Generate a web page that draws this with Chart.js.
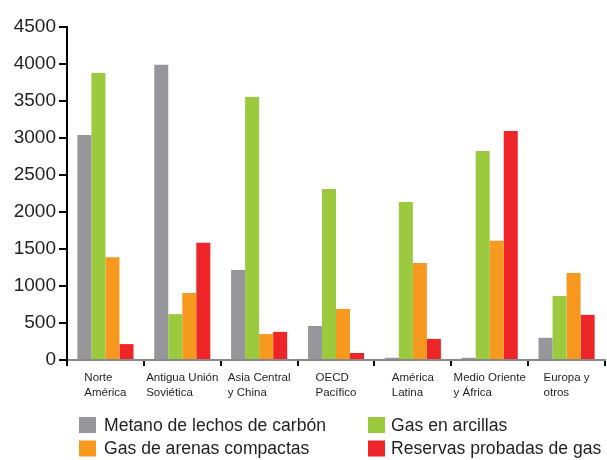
<!DOCTYPE html>
<html>
<head>
<meta charset="utf-8">
<script src="https://cdn.jsdelivr.net/npm/chart.js@4/dist/chart.umd.min.js"></script>
<style>
html,body{margin:0;padding:0;background:#fff;}
#wrap{width:607px;height:460px;}
</style>
</head>
<body>
<div id="wrap"><canvas id="c" width="607" height="460"></canvas></div>
<script>
const categories = [
  ["Norte", "América"],
  ["Antigua Unión", "Soviética"],
  ["Asia Central", "y China"],
  ["OECD", "Pacífico"],
  ["América", "Latina"],
  ["Medio Oriente", "y África"],
  ["Europa y", "otros"]
];
const seriesNames = [
  "Metano de lechos de carbón",
  "Gas en arcillas",
  "Gas de arenas compactas",
  "Reservas probadas de gas"
];
const metano   = [3040, 3990, 1215, 460, 30, 30, 300];
const arcillas = [3880, 620, 3555, 2310, 2135, 2825, 865];
const arenas   = [1390, 905, 350, 690, 1310, 1610, 1175];
const reservas = [215, 1585, 380, 95, 285, 3095, 610];
const yTicks = [0, 500, 1000, 1500, 2000, 2500, 3000, 3500, 4000, 4500];
const colors = ["#97979b", "#9bca3e", "#f7981f", "#ee2529"];

const TEXT = "#231f20";

const catLabelPlugin = {
  id: "catLabels",
  afterDraw(chart) {
    const ctx = chart.ctx;
    const xs = chart.scales.x;
    ctx.save();
    ctx.font = "11.5px 'Liberation Sans', Arial, sans-serif";
    ctx.fillStyle = TEXT;
    ctx.textAlign = "left";
    ctx.textBaseline = "alphabetic";
    chart.data.labels.forEach((lines, i) => {
      const w = Math.max(...lines.map(l => ctx.measureText(l).width));
      const x = xs.getPixelForValue(i) - w / 2;
      lines.forEach((l, j) => {
        ctx.fillText(l, x, xs.top + 21 + j * 15.4);
      });
    });
    ctx.restore();
  }
};

const legendPlugin = {
  id: "gridLegend",
  afterDraw(chart) {
    const ctx = chart.ctx;
    const colX = [79, 368];
    const rowY = [417, 440.5];
    const box = 16;
    ctx.save();
    ctx.font = "17.6px 'Liberation Sans', Arial, sans-serif";
    ctx.textAlign = "left";
    ctx.textBaseline = "middle";
    chart.data.datasets.forEach((ds, i) => {
      const x = colX[i % 2];
      const y = rowY[Math.floor(i / 2)];
      ctx.fillStyle = ds.backgroundColor;
      ctx.fillRect(x, y, box + 1, box);
      ctx.fillStyle = TEXT;
      ctx.fillText(ds.label, x + box + (i % 2 ? 7 : 9), y + box / 2 + 1);
    });
    ctx.restore();
  }
};

const datasets = [metano, arcillas, arenas, reservas].map((d, i) => ({
  label: seriesNames[i],
  data: d,
  backgroundColor: colors[i],
  borderWidth: 0
}));

new Chart(document.getElementById("c"), {
  type: "bar",
  data: { labels: categories, datasets },
  plugins: [catLabelPlugin, legendPlugin],
  options: {
    responsive: false,
    animation: false,
    layout: { padding: { top: 27, right: 2, left: 0, bottom: 0 } },
    plugins: { legend: { display: false }, tooltip: { enabled: false } },
    datasets: { bar: { categoryPercentage: 0.73, barPercentage: 1 } },
    scales: {
      x: {
        grid: { display: true, offset: true, drawOnChartArea: false, drawTicks: true, tickLength: 6, color: "#000", lineWidth: 2 },
        border: { display: true, color: "#8a8a8c", width: 2 },
        ticks: { display: false },
        afterFit: s => { s.height = 100; }
      },
      y: {
        min: 0,
        max: 4500,
        afterBuildTicks: s => { s.ticks = yTicks.map(v => ({ value: v })); },
        ticks: {
          font: { family: "'Liberation Sans', Arial, sans-serif", size: 19 },
          color: TEXT,
          padding: 3,
          callback: v => String(v)
        },
        grid: { drawOnChartArea: false, drawTicks: true, tickLength: 8, color: "#000", lineWidth: 2 },
        border: { display: true, color: "#000", width: 2 },
        afterFit: s => { s.width = 67; }
      }
    }
  }
});
</script>
</body>
</html>
